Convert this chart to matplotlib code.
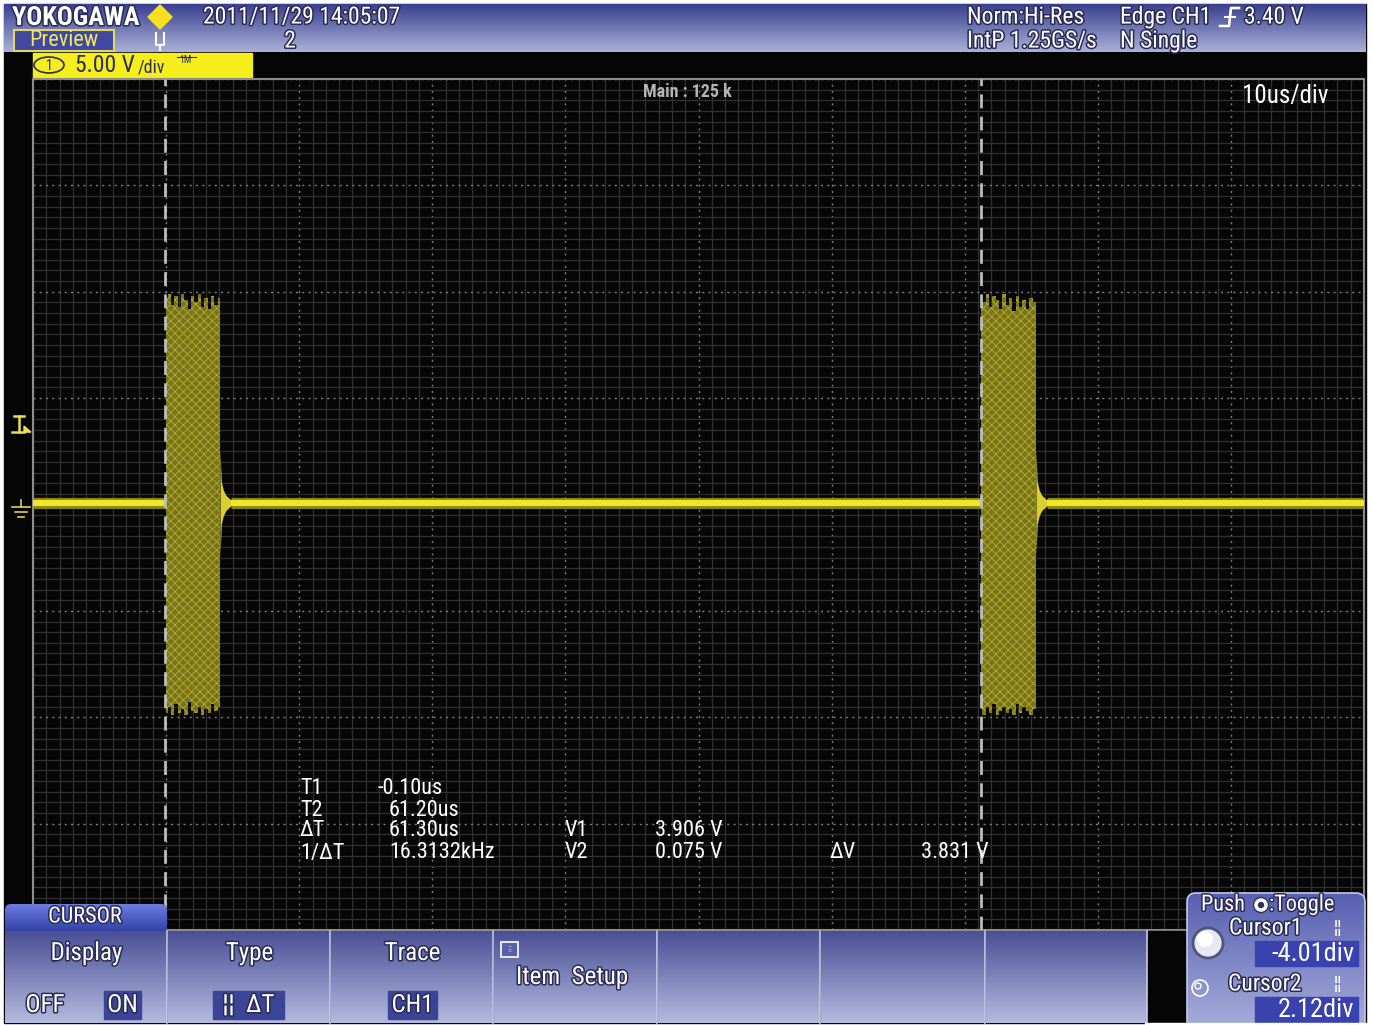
import numpy as np
import matplotlib
matplotlib.use("Agg")
import matplotlib.pyplot as plt
import matplotlib.patheffects as pe
from matplotlib import font_manager
from matplotlib.colors import LinearSegmentedColormap
from matplotlib.patches import Rectangle, Polygon, Ellipse, Circle, FancyBboxPatch
from matplotlib.ticker import MultipleLocator

# --- scope settings / readouts ---
time_div = 10.0        # us/div
volt_div = 5.0         # V/div
t_left = -10.0         # us at left edge of graticule
n_xdiv, n_ydiv = 10, 8
cursor_t = [-0.10, 61.20]
trig_level = 3.40

# baseline level (V2 readout)
base_v = 0.075

# burst envelopes (us, V)
burst1_t = [0.00, 0.25, 0.50, 0.75, 1.00, 1.25, 1.50, 1.75, 2.00, 2.25, 2.50, 2.75, 3.00, 3.25, 3.50, 3.75, 4.05]
burst1_top = [9.7, 9.9, 9.4, 9.8, 9.3, 9.9, 9.6, 9.2, 9.8, 9.5, 9.9, 9.3, 9.7, 9.2, 9.8, 9.4, 9.7]
burst1_bot = [-9.8, -9.5, -9.9, -9.4, -9.8, -9.6, -9.9, -9.3, -9.7, -9.8, -9.5, -9.9, -9.6, -9.8, -9.4, -9.7, -9.5]
burst2_t = [61.20, 61.45, 61.70, 61.95, 62.20, 62.45, 62.70, 62.95, 63.20, 63.45, 63.70, 63.95, 64.20, 64.45, 64.70, 64.95, 65.35]
burst2_top = [9.8, 9.5, 9.9, 9.3, 9.8, 9.6, 9.2, 9.9, 9.4, 9.7, 9.1, 9.8, 9.3, 9.6, 9.2, 9.7, 9.5]
burst2_bot = [-9.6, -9.9, -9.5, -9.8, -9.4, -9.9, -9.7, -9.5, -9.8, -9.6, -9.9, -9.4, -9.8, -9.5, -9.7, -9.9, -9.6]

# ringing just after each burst (offset from burst end, us / V amplitude)
ring_dt = [0.00, 0.10, 0.25, 0.45, 0.80]
ring_amp = [2.5, 1.0, 0.6, 0.35, 0.15]

readout_rows = [("T1", "-0.10us"), ("T2", "61.20us"), ("ΔT", "61.30us"), ("1/ΔT", "16.3132kHz")]
volt_rows = [("V1", "3.906 V"), ("V2", "0.075 V")]
delta_v = "3.831 V"
cursor_div = ["-4.01div", "2.12div"]

menu_labels = ["Display", "Type", "Trace", "", "", "", ""]

W, H = 1373, 1025

fams = {f.name for f in font_manager.fontManager.ttflist}
UI_FONT = next((f for f in ["Liberation Sans Narrow", "DejaVu Sans Condensed", "Roboto Condensed"] if f in fams),
               "DejaVu Sans")
plt.rcParams["font.family"] = [UI_FONT, "DejaVu Sans"]
plt.rcParams["hatch.linewidth"] = 0.6

fig = plt.figure(figsize=(W / 100, H / 100), dpi=100)
fig.patch.set_facecolor("white")


def px_axes(z):
    ax = fig.add_axes([0, 0, 1, 1], zorder=z)
    ax.set_axis_off()
    ax.patch.set_visible(False)
    return ax


def gradient_box(ax, x0, y0, x1, y1, top, bottom, clip=None, z=1):
    cmap = LinearSegmentedColormap.from_list("g", [top, bottom])
    im = ax.imshow(np.linspace(0, 1, 64).reshape(-1, 1), cmap=cmap, extent=(x0, x1, y1, y0),
                   aspect="auto", zorder=z, interpolation="bilinear")
    if clip is not None:
        ax.add_patch(clip)
        clip.set_visible(False)
        im.set_clip_path(clip)
    return im


shadow = [pe.withStroke(linewidth=2.2, foreground="#2a2c55")]

# ---------- background / top bar ----------
bg = px_axes(0)
bg.add_patch(Rectangle((4, 4), 1362, 1019, color="#050505", zorder=0))
gradient_box(bg, 4, 4, 1366, 52, "#3a4190", "#aab0d6")

bg.text(12, 18, "YOKOGAWA", color="white", fontsize=19, weight="bold", va="center", path_effects=shadow)
bg.add_patch(Polygon([(160, 5), (172, 17), (160, 29), (148, 17)], color="#f8e020", zorder=3))
bg.add_patch(Rectangle((14, 30), 100, 21, facecolor="#4048a0", edgecolor="#e0d860", lw=1.5, zorder=3))
bg.text(64, 40.5, "Preview", color="#f0e860", fontsize=16, ha="center", va="center", zorder=4)
bg.plot([156, 156, 164, 164], [33, 45, 45, 33], color="white", lw=1.5, zorder=4)
bg.plot([160, 160], [45, 50], color="white", lw=1.5, zorder=4)
bg.text(203, 17, "2011/11/29 14:05:07", color="white", fontsize=17, va="center", path_effects=shadow)
bg.text(290, 41, "2", color="white", fontsize=17, ha="center", va="center", path_effects=shadow)
bg.text(967, 17, "Norm:Hi-Res", color="white", fontsize=17, va="center", path_effects=shadow)
bg.text(967, 41, "IntP 1.25GS/s", color="white", fontsize=17, va="center", path_effects=shadow)
bg.text(1120, 17, "Edge CH1", color="white", fontsize=17, va="center", path_effects=shadow)
bg.plot([1220, 1229, 1231, 1239], [26, 26, 8, 8], color="white", lw=2, path_effects=shadow)
bg.plot([1225, 1235], [17, 17], color="white", lw=1.5)
bg.text(1244, 17, f"{trig_level:.2f} V", color="white", fontsize=17, va="center", path_effects=shadow)
bg.text(1120, 41, "N Single", color="white", fontsize=17, va="center", path_effects=shadow)

# channel info box
bg.add_patch(Rectangle((33, 53), 219, 24, color="#f6ee1c", zorder=2))
bg.add_patch(Ellipse((49, 65), 30, 16, facecolor="none", edgecolor="#2c2c50", lw=1.2, zorder=3))
bg.text(49, 65.5, "1", color="#2c2c50", fontsize=10, ha="center", va="center", zorder=4)
bg.text(75, 65, f"{volt_div:.2f} V", color="#2c2c50", fontsize=17, va="center", zorder=4)
bg.text(138, 67, "/div", color="#2c2c50", fontsize=13, va="center", zorder=4)
bg.text(179, 60, "1M", color="#2c2c50", fontsize=7, va="center", zorder=4)
bg.plot([177, 196], [57, 57], color="#2c2c50", lw=0.8, zorder=4)

# trigger level and ground markers on the left margin
y_trig = 504.5 - trig_level / volt_div * 106.4
bg.plot([14, 24], [y_trig - 16, y_trig - 16], color="#e8e050", lw=1.8)
bg.plot([19, 19], [y_trig - 16, y_trig], color="#e8e050", lw=1.8)
bg.plot([12, 24], [y_trig, y_trig], color="#e8e050", lw=1.8)
bg.add_patch(Polygon([(24, y_trig - 6), (31, y_trig), (24, y_trig)], color="#e8e050"))
for w, dy in [(18, 0), (12, 5), (6, 10)]:
    bg.plot([21 - w / 2, 21 + w / 2], [507 + dy, 507 + dy], color="#d8d060", lw=1.2)
bg.plot([21, 21], [500, 507], color="#d8d060", lw=1.2)

# ---------- waveform area ----------
ax = fig.add_axes([33 / W, 1 - 930 / H, (1364 - 33) / W, (930 - 79) / H], zorder=1)
ax.set_facecolor("#060606")
ax.set_xlim(t_left, t_left + n_xdiv * time_div)
ax.set_ylim(-n_ydiv / 2 * volt_div, n_ydiv / 2 * volt_div)
ax.xaxis.set_major_locator(MultipleLocator(time_div))
ax.xaxis.set_minor_locator(MultipleLocator(time_div / 10))
ax.yaxis.set_major_locator(MultipleLocator(volt_div))
ax.yaxis.set_minor_locator(MultipleLocator(volt_div / 10))
ax.grid(which="minor", color="#303030", lw=0.9)
ax.grid(which="major", color="#7c7c7c", lw=1.0, ls=(0, (1.5, 3)))
ax.tick_params(which="both", length=0, labelbottom=False, labelleft=False)
for s in ax.spines.values():
    s.set_color("#8c8c8c")
    s.set_linewidth(1.5)
ax.set_axisbelow(True)

# baseline trace between bursts
b1_end, b2_end = burst1_t[-1], burst2_t[-1]
segments = [(t_left, burst1_t[0]), (b1_end + ring_dt[-1], burst2_t[0]), (b2_end + ring_dt[-1], t_left + 100)]
for a, b in segments:
    ax.plot([a, b], [base_v, base_v], color="#8a8416", lw=8, solid_capstyle="butt", zorder=3)
    ax.plot([a, b], [base_v, base_v], color="#eee626", lw=4.5, solid_capstyle="butt", zorder=4)

for bt, top, bot in [(burst1_t, burst1_top, burst1_bot), (burst2_t, burst2_top, burst2_bot)]:
    ax.fill_between(bt, bot, top, step="mid", facecolor="#7a7418", edgecolor="#b4ac34",
                    hatch="xxxx", lw=0, zorder=3)
    rt = [bt[-1] + d for d in ring_dt]
    ra = np.array(ring_amp)
    ax.fill_between(rt, base_v - ra, base_v + ra, color="#d8d030", lw=0, zorder=3)

for t in cursor_t:
    ax.axvline(t, color="#bcbcbc", lw=2, ls=(0, (5, 3)), zorder=5)

# ---------- overlay: readouts, menus ----------
fg = px_axes(2)

fg.text(643, 92, "Main : 125 k", color="#b4b4b4", fontsize=13, weight="bold", va="center")
fg.text(1242, 96, f"{time_div:.0f}us/div", color="white", fontsize=18, va="center")

row_y = [789, 810, 831, 853]
for (lab, val), y in zip(readout_rows, row_y):
    fg.text(300, y, lab, color="white", fontsize=16, va="center")
    fg.text(378 if val.startswith("-") else 389, y, val, color="white", fontsize=16, va="center")
for (lab, val), y in zip(volt_rows, row_y[2:]):
    fg.text(565, y, lab, color="white", fontsize=16, va="center")
    fg.text(655, y, val, color="white", fontsize=16, va="center")
fg.text(830, 853, "ΔV", color="white", fontsize=16, va="center")
fg.text(921, 853, delta_v, color="white", fontsize=16, va="center")

# CURSOR tab
tab = FancyBboxPatch((5, 904), 162, 40, boxstyle="round,pad=0,rounding_size=6", transform=fg.transData)
gradient_box(fg, 5, 904, 167, 931, "#6c7ce0", "#3442a8", clip=tab, z=2)
fg.text(85, 917, "CURSOR", color="white", fontsize=16, ha="center", va="center", path_effects=shadow, zorder=5)

# soft-key menu
edges = [5, 168, 331, 494, 658, 821, 986, 1148]
for i in range(7):
    x0, x1 = edges[i], edges[i + 1]
    gradient_box(fg, x0, 931, x1 - 1, 1023, "#4a5096", "#b4b9de", z=2)
    fg.plot([x1 - 1, x1 - 1], [931, 1023], color="#c6cae8", lw=1.2, zorder=3)
    if menu_labels[i]:
        fg.text((x0 + x1) / 2, 953, menu_labels[i], color="white", fontsize=18, ha="center", va="center",
                path_effects=shadow, zorder=5)
fg.add_patch(Rectangle((1148, 931), 40, 94, color="#050505", zorder=2))

fg.text(45, 1005, "OFF", color="white", fontsize=18, ha="center", va="center", path_effects=shadow, zorder=5)
for (x0, x1), s in [((104, 141), "ON"), ((213, 284), "¦¦  ΔT"), ((388, 437), "CH1")]:
    fg.add_patch(Rectangle((x0, 991), x1 - x0, 28, color="#3c4498", zorder=4))
    fg.text((x0 + x1) / 2, 1005, s, color="white", fontsize=18, ha="center", va="center",
            path_effects=shadow, zorder=5)

fg.add_patch(Rectangle((501, 942), 17, 15, facecolor="#5860a8", edgecolor="white", lw=1.2, zorder=4))
fg.text(509.5, 950, "⁝⁝", color="white", fontsize=6, ha="center", va="center", zorder=5)
fg.text(516, 977, "Item  Setup", color="white", fontsize=18, va="center", path_effects=shadow, zorder=5)

# jog / cursor panel
panel = FancyBboxPatch((1187, 893), 178, 140, boxstyle="round,pad=0,rounding_size=9", transform=fg.transData)
gradient_box(fg, 1187, 893, 1365, 1025, "#5860b2", "#a4aad8", clip=panel, z=3)
fg.add_patch(FancyBboxPatch((1187, 893), 178, 140, boxstyle="round,pad=0,rounding_size=9",
                            facecolor="none", edgecolor="#c4c8ea", lw=1.2, zorder=4))
fg.add_patch(Rectangle((1145, 1023), 228, 3, color="white", zorder=6))
fg.text(1201, 905, "Push", color="white", fontsize=16, va="center", path_effects=shadow, zorder=5)
fg.add_patch(Circle((1261, 905), 7.5, facecolor="white", edgecolor="#30305a", lw=1, zorder=5))
fg.add_patch(Circle((1261, 905), 2.5, color="#30305a", zorder=6))
fg.text(1269, 905, ":Toggle", color="white", fontsize=16, va="center", path_effects=shadow, zorder=5)
fg.text(1229, 928, "Cursor1", color="white", fontsize=17, va="center", path_effects=shadow, zorder=5)
fg.text(1228, 984, "Cursor2", color="white", fontsize=17, va="center", path_effects=shadow, zorder=5)
fg.text(1334, 928, "¦¦", color="white", fontsize=13, va="center", zorder=5)
fg.text(1334, 984, "¦¦", color="white", fontsize=13, va="center", zorder=5)
fg.add_patch(Circle((1208, 943), 15, facecolor="#e6e8f2", edgecolor="#505478", lw=2, zorder=5))
fg.add_patch(Circle((1205, 939), 8, facecolor="white", edgecolor="none", zorder=6))
fg.add_patch(Circle((1200, 988), 8, facecolor="none", edgecolor="white", lw=1.2, zorder=5))
fg.add_patch(Circle((1198, 986), 3, facecolor="none", edgecolor="white", lw=1, zorder=5))
for y0, s in [(941, cursor_div[0]), (997, cursor_div[1])]:
    fg.add_patch(Rectangle((1255, y0), 103, 25, color="#3a42b0", zorder=5))
    fg.text(1354, y0 + 13, s, color="white", fontsize=19, ha="right", va="center", zorder=6)

for a in (bg, fg):
    a.set_xlim(0, W)
    a.set_ylim(H, 0)

fig.savefig("out.png", dpi=100)
